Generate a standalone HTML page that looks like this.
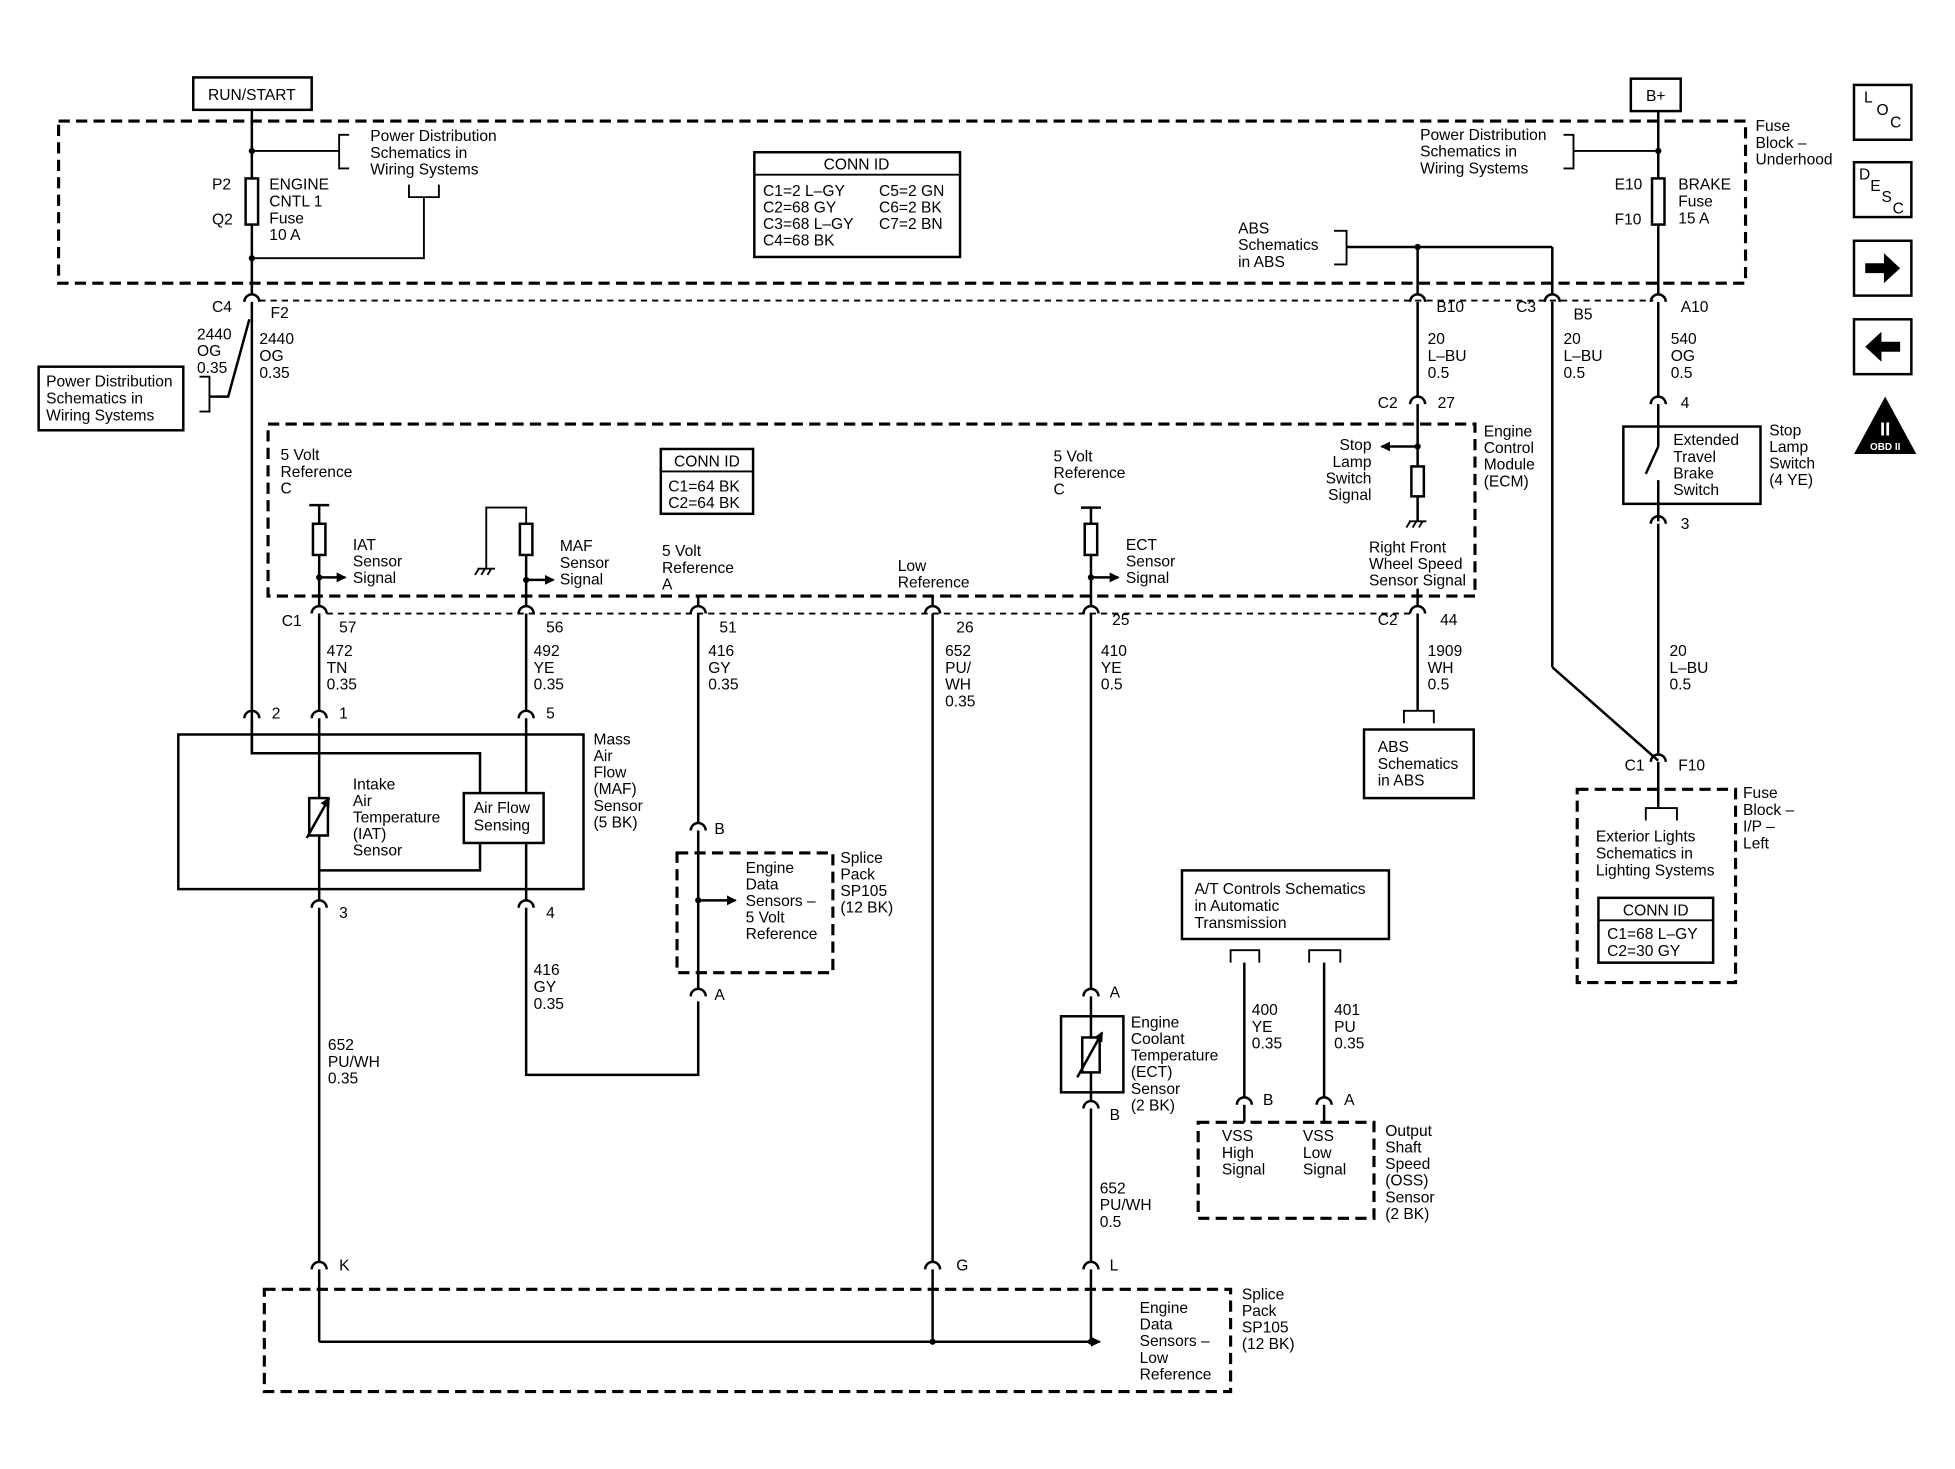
<!DOCTYPE html>
<html><head><meta charset="utf-8"><style>
html,body{margin:0;padding:0;background:#fff;}
svg{display:block}
text{font-family:"Liberation Sans",sans-serif;font-size:12.5px;fill:#000}
.w{stroke:#000;stroke-width:2;fill:none}
.t{stroke:#000;stroke-width:1.5;fill:none}
.d{stroke:#000;stroke-width:2.5;fill:none;stroke-dasharray:9,5}
.dt{stroke:#000;stroke-width:1.5;fill:none;stroke-dasharray:5,4}
.wf{stroke:#000;stroke-width:2;fill:#fff}
</style></head><body>
<svg width="1955" height="1469" viewBox="0 0 1568 1178" xmlns="http://www.w3.org/2000/svg">
<defs>
<path id="c" d="M-6,6 A6,6 0 0 1 6,6" stroke="#000" stroke-width="2" fill="none"/>
<marker id="ar" markerWidth="8" markerHeight="8" refX="7" refY="4" orient="auto" markerUnits="userSpaceOnUse"><path d="M0,0 L8,4 L0,8z" fill="#000"/></marker>
</defs>

<rect x="155" y="62" width="95" height="26" class="w" stroke-width="3"/>
<text x="202" y="80" text-anchor="middle">RUN/START</text>
<rect x="1308" y="63" width="40" height="26" class="w" stroke-width="3"/>
<text x="1328" y="81" text-anchor="middle">B+</text>

<rect x="47" y="97" width="1353" height="130" class="d"/>

<line x1="202" y1="88" x2="202" y2="143" class="w"/>
<rect x="197" y="143" width="10" height="37" class="w"/>
<line x1="202" y1="180" x2="202" y2="236" class="w"/>
<circle cx="202" cy="121" r="2.5"/><circle cx="202" cy="207" r="2.5"/>
<polyline points="202,121 272,121" class="t"/>
<polyline points="280,108 272,108 272,135 280,135" class="t"/>
<text x="297" y="113"><tspan>Power Distribution</tspan><tspan x="297" dy="13.5">Schematics in</tspan><tspan x="297" dy="13.5">Wiring Systems</tspan></text>
<polyline points="328,148 328,158 352,158 352,148" class="t"/>
<polyline points="340,158 340,207 202,207" class="t"/>
<text x="170" y="152">P2</text><text x="170" y="180">Q2</text>
<text x="216" y="152"><tspan>ENGINE</tspan><tspan x="216" dy="13.5">CNTL 1</tspan><tspan x="216" dy="13.5">Fuse</tspan><tspan x="216" dy="13.5">10 A</tspan></text>

<rect x="605" y="122" width="165" height="84" class="w"/>
<line x1="605" y1="140" x2="770" y2="140" class="t"/>
<text x="687" y="136" text-anchor="middle">CONN ID</text>
<text x="612" y="157"><tspan>C1=2 L–GY</tspan><tspan x="612" dy="13.3">C2=68 GY</tspan><tspan x="612" dy="13.3">C3=68 L–GY</tspan><tspan x="612" dy="13.3">C4=68 BK</tspan></text>
<text x="705" y="157"><tspan>C5=2 GN</tspan><tspan x="705" dy="13.3">C6=2 BK</tspan><tspan x="705" dy="13.3">C7=2 BN</tspan></text>

<line x1="1330" y1="89" x2="1330" y2="143" class="w"/>
<rect x="1325" y="143" width="10" height="37" class="w"/>
<line x1="1330" y1="180" x2="1330" y2="236" class="w"/>
<circle cx="1330" cy="121" r="2.5"/>
<polyline points="1330,121 1262,121" class="t"/>
<polyline points="1254,108 1262,108 1262,135 1254,135" class="t"/>
<text x="1139" y="112"><tspan>Power Distribution</tspan><tspan x="1139" dy="13.5">Schematics in</tspan><tspan x="1139" dy="13.5">Wiring Systems</tspan></text>
<text x="1408" y="105"><tspan>Fuse</tspan><tspan x="1408" dy="13.5">Block –</tspan><tspan x="1408" dy="13.5">Underhood</tspan></text>
<text x="1295" y="152">E10</text><text x="1295" y="180">F10</text>
<text x="1346" y="152"><tspan>BRAKE</tspan><tspan x="1346" dy="13.5">Fuse</tspan><tspan x="1346" dy="13.5">15 A</tspan></text>

<polyline points="1070,185 1080,185 1080,212 1070,212" class="t"/>
<line x1="1080" y1="198" x2="1245" y2="198" class="w"/>
<circle cx="1137" cy="198" r="2.5"/>
<line x1="1137" y1="198" x2="1137" y2="236" class="w"/>
<line x1="1245" y1="198" x2="1245" y2="236" class="w"/>
<text x="993" y="187"><tspan>ABS</tspan><tspan x="993" dy="13.5">Schematics</tspan><tspan x="993" dy="13.5">in ABS</tspan></text>

<line x1="208" y1="241" x2="1326" y2="241" class="dt"/>
<use href="#c" x="202" y="236"/><use href="#c" x="1137" y="236"/><use href="#c" x="1245" y="236"/><use href="#c" x="1330" y="236"/>
<text x="170" y="250">C4</text><text x="217" y="255">F2</text>
<text x="1152" y="250">B10</text><text x="1216" y="250">C3</text><text x="1262" y="256">B5</text><text x="1348" y="250">A10</text>

<line x1="202" y1="242" x2="202" y2="604" class="w"/>
<polyline points="200,256 183,318 168,318" class="w"/>
<polyline points="160,302 168,302 168,330 160,330" class="t"/>
<rect x="31" y="294" width="116" height="51" class="w"/>
<text x="37" y="310"><tspan>Power Distribution</tspan><tspan x="37" dy="13.5">Schematics in</tspan><tspan x="37" dy="13.5">Wiring Systems</tspan></text>
<text x="158" y="272"><tspan>2440</tspan><tspan x="158" dy="13.5">OG</tspan><tspan x="158" dy="13.5">0.35</tspan></text>
<text x="208" y="276"><tspan>2440</tspan><tspan x="208" dy="13.5">OG</tspan><tspan x="208" dy="13.5">0.35</tspan></text>

<line x1="1137" y1="242" x2="1137" y2="318" class="w"/>
<text x="1145" y="276"><tspan>20</tspan><tspan x="1145" dy="13.5">L–BU</tspan><tspan x="1145" dy="13.5">0.5</tspan></text>
<text x="1254" y="276"><tspan>20</tspan><tspan x="1254" dy="13.5">L–BU</tspan><tspan x="1254" dy="13.5">0.5</tspan></text>
<text x="1340" y="276"><tspan>540</tspan><tspan x="1340" dy="13.5">OG</tspan><tspan x="1340" dy="13.5">0.5</tspan></text>
<line x1="1330" y1="242" x2="1330" y2="318" class="w"/>
<use href="#c" x="1137" y="318"/><use href="#c" x="1330" y="318"/>
<text x="1105" y="327">C2</text><text x="1153" y="327">27</text><text x="1348" y="327">4</text>
<line x1="1245" y1="242" x2="1245" y2="535" class="w"/>
<line x1="1245" y1="535" x2="1330" y2="610" class="w"/>

<rect x="1302" y="342" width="110" height="62" class="w"/>
<line x1="1330" y1="324" x2="1330" y2="358" class="w"/>
<line x1="1330" y1="358" x2="1320" y2="380" class="w"/>
<line x1="1330" y1="385" x2="1330" y2="418" class="w"/>
<use href="#c" x="1330" y="414"/>
<text x="1342" y="357"><tspan>Extended</tspan><tspan x="1342" dy="13.3">Travel</tspan><tspan x="1342" dy="13.3">Brake</tspan><tspan x="1342" dy="13.3">Switch</tspan></text>
<text x="1419" y="349"><tspan>Stop</tspan><tspan x="1419" dy="13.3">Lamp</tspan><tspan x="1419" dy="13.3">Switch</tspan><tspan x="1419" dy="13.3">(4 YE)</tspan></text>
<text x="1348" y="424">3</text>
<line x1="1330" y1="420" x2="1330" y2="604" class="w"/>
<text x="1339" y="526"><tspan>20</tspan><tspan x="1339" dy="13.5">L–BU</tspan><tspan x="1339" dy="13.5">0.5</tspan></text>
<use href="#c" x="1330" y="605"/>
<text x="1303" y="618">C1</text><text x="1346" y="618">F10</text>
<line x1="1330" y1="611" x2="1330" y2="648" class="w"/>

<rect x="215" y="340" width="968" height="138" class="d"/>
<text x="1190" y="350"><tspan>Engine</tspan><tspan x="1190" dy="13.3">Control</tspan><tspan x="1190" dy="13.3">Module</tspan><tspan x="1190" dy="13.3">(ECM)</tspan></text>
<line x1="1137" y1="324" x2="1137" y2="374" class="w"/>
<line x1="1137" y1="358" x2="1108" y2="358" class="w" marker-end="url(#ar)"/>
<circle cx="1137" cy="358" r="2.5"/>
<rect x="1132" y="374" width="10" height="24" class="w"/>
<line x1="1137" y1="398" x2="1137" y2="418" class="w"/>
<g class="t"><line x1="1130" y1="418" x2="1144" y2="418"/><line x1="1131" y1="418" x2="1128" y2="423"/><line x1="1136" y1="418" x2="1133" y2="423"/><line x1="1141" y1="418" x2="1138" y2="423"/></g>
<text x="1100" y="361" text-anchor="end"><tspan>Stop</tspan><tspan x="1100" dy="13.3">Lamp</tspan><tspan x="1100" dy="13.3">Switch</tspan><tspan x="1100" dy="13.3">Signal</tspan></text>
<text x="1098" y="443"><tspan>Right Front</tspan><tspan x="1098" dy="13.3">Wheel Speed</tspan><tspan x="1098" dy="13.3">Sensor Signal</tspan></text>
<line x1="1137" y1="472" x2="1137" y2="486" class="w"/>

<text x="225" y="369"><tspan>5 Volt</tspan><tspan x="225" dy="13.3">Reference</tspan><tspan x="225" dy="13.3">C</tspan></text>
<line x1="248" y1="405" x2="264" y2="405" class="w" stroke-width="2.5"/>
<line x1="256" y1="405" x2="256" y2="420" class="w"/>
<rect x="251" y="420" width="10" height="25" class="w"/>
<line x1="256" y1="445" x2="256" y2="486" class="w"/>
<line x1="256" y1="463" x2="277" y2="463" class="w" marker-end="url(#ar)"/>
<circle cx="256" cy="463" r="2.5"/>
<text x="283" y="441"><tspan>IAT</tspan><tspan x="283" dy="13.3">Sensor</tspan><tspan x="283" dy="13.3">Signal</tspan></text>

<polyline points="390,456 390,407 422,407 422,420" class="t"/>
<g class="t"><line x1="383" y1="456" x2="397" y2="456"/><line x1="384" y1="456" x2="381" y2="461"/><line x1="389" y1="456" x2="386" y2="461"/><line x1="394" y1="456" x2="391" y2="461"/></g>
<rect x="417" y="420" width="10" height="25" class="w"/>
<line x1="422" y1="445" x2="422" y2="486" class="w"/>
<line x1="422" y1="465" x2="444" y2="465" class="w" marker-end="url(#ar)"/>
<circle cx="422" cy="465" r="2.5"/>
<text x="449" y="442"><tspan>MAF</tspan><tspan x="449" dy="13.3">Sensor</tspan><tspan x="449" dy="13.3">Signal</tspan></text>

<rect x="530" y="360" width="74" height="52" class="w"/>
<line x1="530" y1="378" x2="604" y2="378" class="t"/>
<text x="567" y="374" text-anchor="middle">CONN ID</text>
<text x="536" y="394"><tspan>C1=64 BK</tspan><tspan x="536" dy="13.3">C2=64 BK</tspan></text>
<text x="531" y="446"><tspan>5 Volt</tspan><tspan x="531" dy="13.3">Reference</tspan><tspan x="531" dy="13.3">A</tspan></text>
<text x="720" y="458"><tspan>Low</tspan><tspan x="720" dy="13.3">Reference</tspan></text>
<line x1="560" y1="478" x2="560" y2="486" class="w"/>
<line x1="748" y1="478" x2="748" y2="486" class="w"/>

<text x="845" y="370"><tspan>5 Volt</tspan><tspan x="845" dy="13.3">Reference</tspan><tspan x="845" dy="13.3">C</tspan></text>
<line x1="867" y1="407" x2="883" y2="407" class="w" stroke-width="2.5"/>
<line x1="875" y1="407" x2="875" y2="420" class="w"/>
<rect x="870" y="420" width="10" height="25" class="w"/>
<line x1="875" y1="445" x2="875" y2="486" class="w"/>
<line x1="875" y1="463" x2="897" y2="463" class="w" marker-end="url(#ar)"/>
<circle cx="875" cy="463" r="2.5"/>
<text x="903" y="441"><tspan>ECT</tspan><tspan x="903" dy="13.3">Sensor</tspan><tspan x="903" dy="13.3">Signal</tspan></text>

<line x1="262" y1="492" x2="1133" y2="492" class="dt"/>
<use href="#c" x="256" y="486"/><use href="#c" x="422" y="486"/><use href="#c" x="560" y="486"/><use href="#c" x="748" y="486"/><use href="#c" x="875" y="486"/><use href="#c" x="1137" y="486"/>
<text x="226" y="502">C1</text><text x="272" y="507">57</text><text x="438" y="507">56</text><text x="577" y="507">51</text><text x="767" y="507">26</text><text x="892" y="501">25</text><text x="1105" y="501">C2</text><text x="1155" y="501">44</text>

<text x="262" y="526"><tspan>472</tspan><tspan x="262" dy="13.5">TN</tspan><tspan x="262" dy="13.5">0.35</tspan></text>
<text x="428" y="526"><tspan>492</tspan><tspan x="428" dy="13.5">YE</tspan><tspan x="428" dy="13.5">0.35</tspan></text>
<text x="568" y="526"><tspan>416</tspan><tspan x="568" dy="13.5">GY</tspan><tspan x="568" dy="13.5">0.35</tspan></text>
<text x="758" y="526"><tspan>652</tspan><tspan x="758" dy="13.5">PU/</tspan><tspan x="758" dy="13.5">WH</tspan><tspan x="758" dy="13.5">0.35</tspan></text>
<text x="883" y="526"><tspan>410</tspan><tspan x="883" dy="13.5">YE</tspan><tspan x="883" dy="13.5">0.5</tspan></text>
<text x="1145" y="526"><tspan>1909</tspan><tspan x="1145" dy="13.5">WH</tspan><tspan x="1145" dy="13.5">0.5</tspan></text>

<line x1="1137" y1="492" x2="1137" y2="570" class="w"/>
<polyline points="1126,580 1126,570 1150,570 1150,580" class="t"/>
<rect x="1094" y="585" width="88" height="55" class="w"/>
<text x="1105" y="603"><tspan>ABS</tspan><tspan x="1105" dy="13.5">Schematics</tspan><tspan x="1105" dy="13.5">in ABS</tspan></text>

<rect x="1265" y="633" width="127" height="155" class="d"/>
<polyline points="1320,658 1320,648 1345,648 1345,658" class="t"/>
<text x="1280" y="675"><tspan>Exterior Lights</tspan><tspan x="1280" dy="13.5">Schematics in</tspan><tspan x="1280" dy="13.5">Lighting Systems</tspan></text>
<rect x="1282" y="720" width="92" height="52" class="w"/>
<line x1="1282" y1="738" x2="1374" y2="738" class="t"/>
<text x="1328" y="734" text-anchor="middle">CONN ID</text>
<text x="1289" y="753"><tspan>C1=68 L–GY</tspan><tspan x="1289" dy="13.5">C2=30 GY</tspan></text>
<text x="1398" y="640"><tspan>Fuse</tspan><tspan x="1398" dy="13.5">Block –</tspan><tspan x="1398" dy="13.5">I/P –</tspan><tspan x="1398" dy="13.5">Left</tspan></text>

<line x1="256" y1="492" x2="256" y2="570" class="w"/>
<line x1="422" y1="492" x2="422" y2="570" class="w"/>
<use href="#c" x="202" y="570"/><use href="#c" x="256" y="570"/><use href="#c" x="422" y="570"/>
<text x="218" y="576">2</text><text x="272" y="576">1</text><text x="438" y="576">5</text>
<rect x="143" y="589" width="325" height="124" class="w"/>
<polyline points="202,576 202,604 385,604 385,698 256,698" class="w"/>
<line x1="256" y1="576" x2="256" y2="722" class="w"/>
<rect x="248" y="640" width="15" height="30" class="wf"/>
<line x1="246" y1="672" x2="264" y2="640" class="w" marker-end="url(#ar)"/>
<line x1="422" y1="576" x2="422" y2="722" class="w"/>
<rect x="372" y="636" width="64" height="40" class="wf"/>
<text x="380" y="652"><tspan>Air Flow</tspan><tspan x="380" dy="14">Sensing</tspan></text>
<text x="283" y="633"><tspan>Intake</tspan><tspan x="283" dy="13.3">Air</tspan><tspan x="283" dy="13.3">Temperature</tspan><tspan x="283" dy="13.3">(IAT)</tspan><tspan x="283" dy="13.3">Sensor</tspan></text>
<text x="476" y="597"><tspan>Mass</tspan><tspan x="476" dy="13.3">Air</tspan><tspan x="476" dy="13.3">Flow</tspan><tspan x="476" dy="13.3">(MAF)</tspan><tspan x="476" dy="13.3">Sensor</tspan><tspan x="476" dy="13.3">(5 BK)</tspan></text>
<use href="#c" x="256" y="722"/><use href="#c" x="422" y="722"/>
<text x="272" y="736">3</text><text x="438" y="736">4</text>
<line x1="256" y1="728" x2="256" y2="1012" class="w"/>
<polyline points="422,728 422,862 560,862 560,803" class="w"/>
<text x="428" y="782"><tspan>416</tspan><tspan x="428" dy="13.5">GY</tspan><tspan x="428" dy="13.5">0.35</tspan></text>
<text x="263" y="842"><tspan>652</tspan><tspan x="263" dy="13.5">PU/WH</tspan><tspan x="263" dy="13.5">0.35</tspan></text>

<line x1="560" y1="492" x2="560" y2="660" class="w"/>
<use href="#c" x="560" y="660"/>
<text x="573" y="669">B</text>
<rect x="543" y="684" width="125" height="96" class="d"/>
<line x1="560" y1="666" x2="560" y2="793" class="w"/>
<line x1="560" y1="722" x2="590" y2="722" class="w" marker-end="url(#ar)"/>
<circle cx="560" cy="722" r="2.5"/>
<use href="#c" x="560" y="793"/>
<text x="573" y="802">A</text>
<text x="598" y="700"><tspan>Engine</tspan><tspan x="598" dy="13.3">Data</tspan><tspan x="598" dy="13.3">Sensors –</tspan><tspan x="598" dy="13.3">5 Volt</tspan><tspan x="598" dy="13.3">Reference</tspan></text>
<text x="674" y="692"><tspan>Splice</tspan><tspan x="674" dy="13.3">Pack</tspan><tspan x="674" dy="13.3">SP105</tspan><tspan x="674" dy="13.3">(12 BK)</tspan></text>

<line x1="748" y1="492" x2="748" y2="1012" class="w"/>

<line x1="875" y1="492" x2="875" y2="793" class="w"/>
<use href="#c" x="875" y="793"/>
<text x="890" y="800">A</text>
<line x1="875" y1="799" x2="875" y2="883" class="w"/>
<rect x="851" y="815" width="50" height="61" class="wf"/>
<line x1="875" y1="815" x2="875" y2="876" class="w"/>
<rect x="868" y="832" width="14" height="28" class="wf"/>
<line x1="864" y1="864" x2="884" y2="828" class="w" marker-end="url(#ar)"/>
<use href="#c" x="875" y="883"/>
<text x="890" y="898">B</text>
<line x1="875" y1="889" x2="875" y2="1012" class="w"/>
<text x="907" y="824"><tspan>Engine</tspan><tspan x="907" dy="13.3">Coolant</tspan><tspan x="907" dy="13.3">Temperature</tspan><tspan x="907" dy="13.3">(ECT)</tspan><tspan x="907" dy="13.3">Sensor</tspan><tspan x="907" dy="13.3">(2 BK)</tspan></text>
<text x="882" y="957"><tspan>652</tspan><tspan x="882" dy="13.5">PU/WH</tspan><tspan x="882" dy="13.5">0.5</tspan></text>

<rect x="948" y="698" width="166" height="55" class="w"/>
<text x="958" y="717"><tspan>A/T Controls Schematics</tspan><tspan x="958" dy="13.5">in Automatic</tspan><tspan x="958" dy="13.5">Transmission</tspan></text>
<polyline points="987,772 987,762 1010,762 1010,772" class="t"/>
<polyline points="1050,772 1050,762 1075,762 1075,772" class="t"/>
<line x1="998" y1="772" x2="998" y2="880" class="w"/>
<line x1="1062" y1="772" x2="1062" y2="880" class="w"/>
<text x="1004" y="814"><tspan>400</tspan><tspan x="1004" dy="13.5">YE</tspan><tspan x="1004" dy="13.5">0.35</tspan></text>
<text x="1070" y="814"><tspan>401</tspan><tspan x="1070" dy="13.5">PU</tspan><tspan x="1070" dy="13.5">0.35</tspan></text>
<use href="#c" x="998" y="880"/><use href="#c" x="1062" y="880"/>
<text x="1013" y="886">B</text><text x="1078" y="886">A</text>
<line x1="998" y1="886" x2="998" y2="900" class="w"/>
<line x1="1062" y1="886" x2="1062" y2="900" class="w"/>
<rect x="961" y="900" width="141" height="77" class="d"/>
<text x="980" y="915"><tspan>VSS</tspan><tspan x="980" dy="13.5">High</tspan><tspan x="980" dy="13.5">Signal</tspan></text>
<text x="1045" y="915"><tspan>VSS</tspan><tspan x="1045" dy="13.5">Low</tspan><tspan x="1045" dy="13.5">Signal</tspan></text>
<text x="1111" y="911"><tspan>Output</tspan><tspan x="1111" dy="13.3">Shaft</tspan><tspan x="1111" dy="13.3">Speed</tspan><tspan x="1111" dy="13.3">(OSS)</tspan><tspan x="1111" dy="13.3">Sensor</tspan><tspan x="1111" dy="13.3">(2 BK)</tspan></text>

<use href="#c" x="256" y="1012"/><use href="#c" x="748" y="1012"/><use href="#c" x="875" y="1012"/>
<text x="272" y="1019">K</text><text x="767" y="1019">G</text><text x="890" y="1019">L</text>
<rect x="212" y="1034" width="775" height="82" class="d"/>
<line x1="256" y1="1018" x2="256" y2="1076" class="w"/>
<line x1="748" y1="1018" x2="748" y2="1076" class="w"/>
<line x1="875" y1="1018" x2="875" y2="1076" class="w"/>
<line x1="256" y1="1076" x2="882" y2="1076" class="w" marker-end="url(#ar)"/>
<circle cx="748" cy="1076" r="2.5"/><circle cx="875" cy="1076" r="2.5"/>
<text x="914" y="1053"><tspan>Engine</tspan><tspan x="914" dy="13.3">Data</tspan><tspan x="914" dy="13.3">Sensors –</tspan><tspan x="914" dy="13.3">Low</tspan><tspan x="914" dy="13.3">Reference</tspan></text>
<text x="996" y="1042"><tspan>Splice</tspan><tspan x="996" dy="13.3">Pack</tspan><tspan x="996" dy="13.3">SP105</tspan><tspan x="996" dy="13.3">(12 BK)</tspan></text>

<rect x="1487" y="68" width="46" height="44" class="w"/>
<text x="1495" y="82" font-size="11">L</text><text x="1505" y="92" font-size="11">O</text><text x="1516" y="102" font-size="11">C</text>
<rect x="1487" y="130" width="46" height="44" class="w"/>
<text x="1491" y="144" font-size="11">D</text><text x="1500" y="153" font-size="11">E</text><text x="1509" y="162" font-size="11">S</text><text x="1518" y="171" font-size="11">C</text>
<rect x="1487" y="193" width="46" height="44" class="w"/>
<path d="M1496,211 L1511,211 L1511,203 L1524,215 L1511,227 L1511,219 L1496,219z" fill="#000"/>
<rect x="1487" y="256" width="46" height="44" class="w"/>
<path d="M1524,274 L1509,274 L1509,266 L1496,278 L1509,290 L1509,282 L1524,282z" fill="#000"/>
<path d="M1512,318 L1537,364 L1487,364z" fill="#000"/>
<rect x="1494" y="352" width="36" height="10" fill="#000"/>
<text x="1512" y="361" text-anchor="middle" style="font-size:8px;font-weight:bold;fill:#fff">OBD II</text>
<text x="1512" y="349" text-anchor="middle" style="font-size:15px;font-weight:bold;fill:#fff">II</text>
</svg>
</body></html>
